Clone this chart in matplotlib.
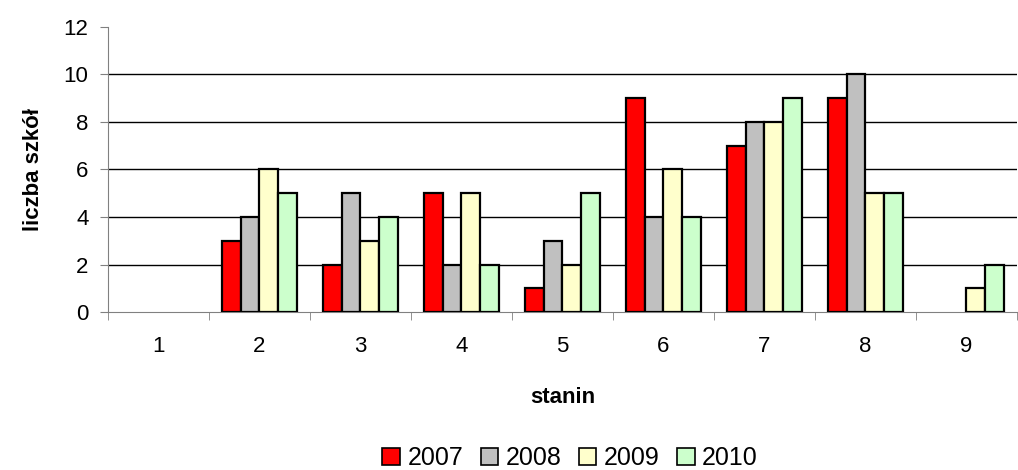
import numpy as np
import matplotlib.pyplot as plt
from matplotlib.patches import Patch

plt.rcParams['font.family'] = ['Liberation Sans', 'DejaVu Sans']

staniny = ['1', '2', '3', '4', '5', '6', '7', '8', '9']
lata = ['2007', '2008', '2009', '2010']
v2007 = [0, 3, 2, 5, 1, 9, 7, 9, 0]
v2008 = [0, 4, 5, 2, 3, 4, 8, 10, 0]
v2009 = [0, 6, 3, 5, 2, 6, 8, 5, 1]
v2010 = [0, 5, 4, 2, 5, 4, 9, 5, 2]
kolory = ['#ff0000', '#c0c0c0', '#ffffcc', '#ccffcc']

fig = plt.figure(figsize=(10.18, 4.70), dpi=100)
ax = fig.add_axes([0.106, 0.336, 0.893, 0.607])

x = np.arange(len(staniny))
w = 0.185
for i, (vals, c) in enumerate(zip([v2007, v2008, v2009, v2010], kolory)):
    bars = ax.bar(x + (i - 1.5) * w, vals, w, color=c, edgecolor='black',
                  linewidth=1.6, zorder=3)
    # zero bars are not drawn at all in the original
    for b, v in zip(bars, vals):
        if v == 0:
            b.set_visible(False)

ax.set_xlim(-0.5, len(staniny) - 0.5)
ax.set_ylim(0, 12)
ax.set_yticks(range(0, 13, 2))
for yv in range(2, 12, 2):
    ax.axhline(yv, color='black', lw=1, zorder=1)

ax.set_xticks(x)
ax.set_xticklabels(staniny, fontsize=16)
ax.set_xticks(np.arange(-0.5, len(staniny), 1), minor=True)
ax.tick_params(axis='x', which='major', length=0, pad=17)
ax.tick_params(axis='x', which='minor', length=6, color='#808080')
ax.tick_params(axis='y', labelsize=16, length=6, color='#808080', direction='out', pad=8)

for s in ['top', 'right']:
    ax.spines[s].set_visible(False)
for s in ['left', 'bottom']:
    ax.spines[s].set_color('#808080')

ax.set_ylabel('liczba szkół', fontsize=16, fontweight='bold', labelpad=14)
ax.set_xlabel('stanin', fontsize=16, fontweight='bold', labelpad=22)

uchwyty = [Patch(facecolor=c, edgecolor='black', linewidth=1.2) for c in kolory]
fig.legend(uchwyty, lata, loc='center', bbox_to_anchor=(0.56, 0.025), ncol=4,
           frameon=False, fontsize=18, handlelength=0.7, handleheight=0.7,
           handletextpad=0.3, columnspacing=0.7)

fig.savefig('out.png', dpi=100)
